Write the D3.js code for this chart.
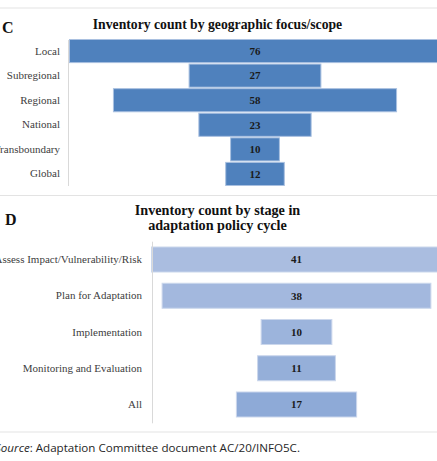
<!DOCTYPE html>
<html lang="en">
<head>
    <meta charset="UTF-8">
    <title>Inventory counts</title>
    <style>
        body {
            margin: 0;
            background-color: white;
        }
        svg {
            display: block;
        }
    </style>
</head>
<body>
    <svg width="437" height="461"></svg>
    <script src="https://d3js.org/d3.v7.min.js"></script>
    <script>
        // panel C
        const scopeCategories = ["Local", "Subregional", "Regional", "National", "Transboundary", "Global"];
        const scopeCounts = [76, 27, 58, 23, 10, 12];

        // panel D
        const stageCategories = ["Assess Impact/Vulnerability/Risk", "Plan for Adaptation", "Implementation", "Monitoring and Evaluation", "All"];
        const stageCounts = [41, 38, 10, 11, 17];

        const svg = d3.select("svg");
        const serif = "'Liberation Serif', 'Times New Roman', Times, serif";

        // light separator lines between the panels
        svg.selectAll("line.sep")
            .data([8, 195.5, 432])
            .join("line")
            .attr("class", "sep")
            .attr("x1", 0).attr("x2", 437)
            .attr("y1", d => d).attr("y2", d => d)
            .attr("stroke", "#e3e3e3")
            .attr("stroke-width", 1);

        function funnel(opts) {
            const g = svg.append("g");

            const y = d3.scaleBand()
                .domain(opts.categories)
                .range(opts.yRange)
                .paddingInner(opts.padIn)
                .paddingOuter(opts.padOut);

            const half = opts.halfDomain;
            const x = d3.scaleLinear()
                .domain([-half, half])
                .range(opts.xRange);

            const data = opts.categories.map((c, i) => ({ cat: c, v: opts.values[i], i }));

            g.selectAll("rect")
                .data(data)
                .join("rect")
                .attr("x", d => x(-d.v / 2))
                .attr("y", d => y(d.cat))
                .attr("width", d => x(d.v / 2) - x(-d.v / 2))
                .attr("height", y.bandwidth())
                .attr("fill", d => opts.fill(d.i))
                .attr("stroke", opts.stroke)
                .attr("stroke-width", 1);

            g.selectAll("text.val")
                .data(data)
                .join("text")
                .attr("class", "val")
                .attr("x", x(0))
                .attr("y", d => y(d.cat) + y.bandwidth() / 2)
                .attr("dy", "0.35em")
                .attr("text-anchor", "middle")
                .attr("font-family", serif)
                .attr("font-weight", "bold")
                .attr("font-size", "11px")
                .attr("fill", "#1a1a1a")
                .text(d => d.v);

            const axis = g.append("g")
                .attr("transform", `translate(${opts.axisX},0)`)
                .attr("font-family", serif)
                .call(d3.axisLeft(y).tickSize(0).tickPadding(opts.tickPad));
            axis.attr("font-family", serif).attr("font-size", "11px");
            axis.select(".domain").attr("stroke", "#d9d9d9");
            axis.selectAll("text")
                .attr("font-family", serif)
                .attr("font-size", "11px")
                .attr("fill", "#404040");
        }

        // C
        svg.append("text")
            .attr("x", 2).attr("y", 33)
            .attr("font-family", serif).attr("font-weight", "bold").attr("font-size", "16px")
            .attr("fill", "#111")
            .text("C");
        svg.append("text")
            .attr("x", 217.5).attr("y", 29)
            .attr("text-anchor", "middle")
            .attr("font-family", serif).attr("font-weight", "bold").attr("font-size", "13.7px")
            .attr("fill", "#111")
            .text("Inventory count by geographic focus/scope");

        funnel({
            categories: scopeCategories,
            values: scopeCounts,
            yRange: [39.5, 185.5],
            padIn: 0.06,
            padOut: 0,
            halfDomain: 38,
            xRange: [69.5, 440.5],
            axisX: 68,
            tickPad: 8,
            fill: () => "#4f81bd",
            stroke: "#a9c0e0"
        });

        // D
        svg.append("text")
            .attr("x", 5).attr("y", 225)
            .attr("font-family", serif).attr("font-weight", "bold").attr("font-size", "16px")
            .attr("fill", "#111")
            .text("D");
        const dTitle = svg.append("text")
            .attr("text-anchor", "middle")
            .attr("font-family", serif).attr("font-weight", "bold").attr("font-size", "14.2px")
            .attr("fill", "#111");
        dTitle.selectAll("tspan")
            .data(["Inventory count by stage in", "adaptation policy cycle"])
            .join("tspan")
            .attr("x", 217.5)
            .attr("y", (d, i) => 214.5 + i * 15)
            .text(d => d);

        const stageFill = d3.scaleLinear()
            .domain([0, stageCategories.length - 1])
            .range(["#aabde0", "#8eaad7"]);

        funnel({
            categories: stageCategories,
            values: stageCounts,
            yRange: [241.2, 422.8],
            padIn: 0.31,
            padOut: 0.16,
            halfDomain: 20.5,
            xRange: [151.5, 441.5],
            axisX: 152,
            tickPad: 10,
            fill: i => stageFill(i),
            stroke: "#cbd7ec"
        });

        // source note
        const src = svg.append("text")
            .attr("x", -5).attr("y", 452)
            .attr("font-family", "'Open Sans', 'Noto Sans', sans-serif")
            .attr("font-size", "11.6px")
            .attr("fill", "#262626");
        src.append("tspan").attr("font-style", "italic").text("Source");
        src.append("tspan").text(": Adaptation Committee document AC/20/INFO5C.");
    </script>
</body>
</html>
